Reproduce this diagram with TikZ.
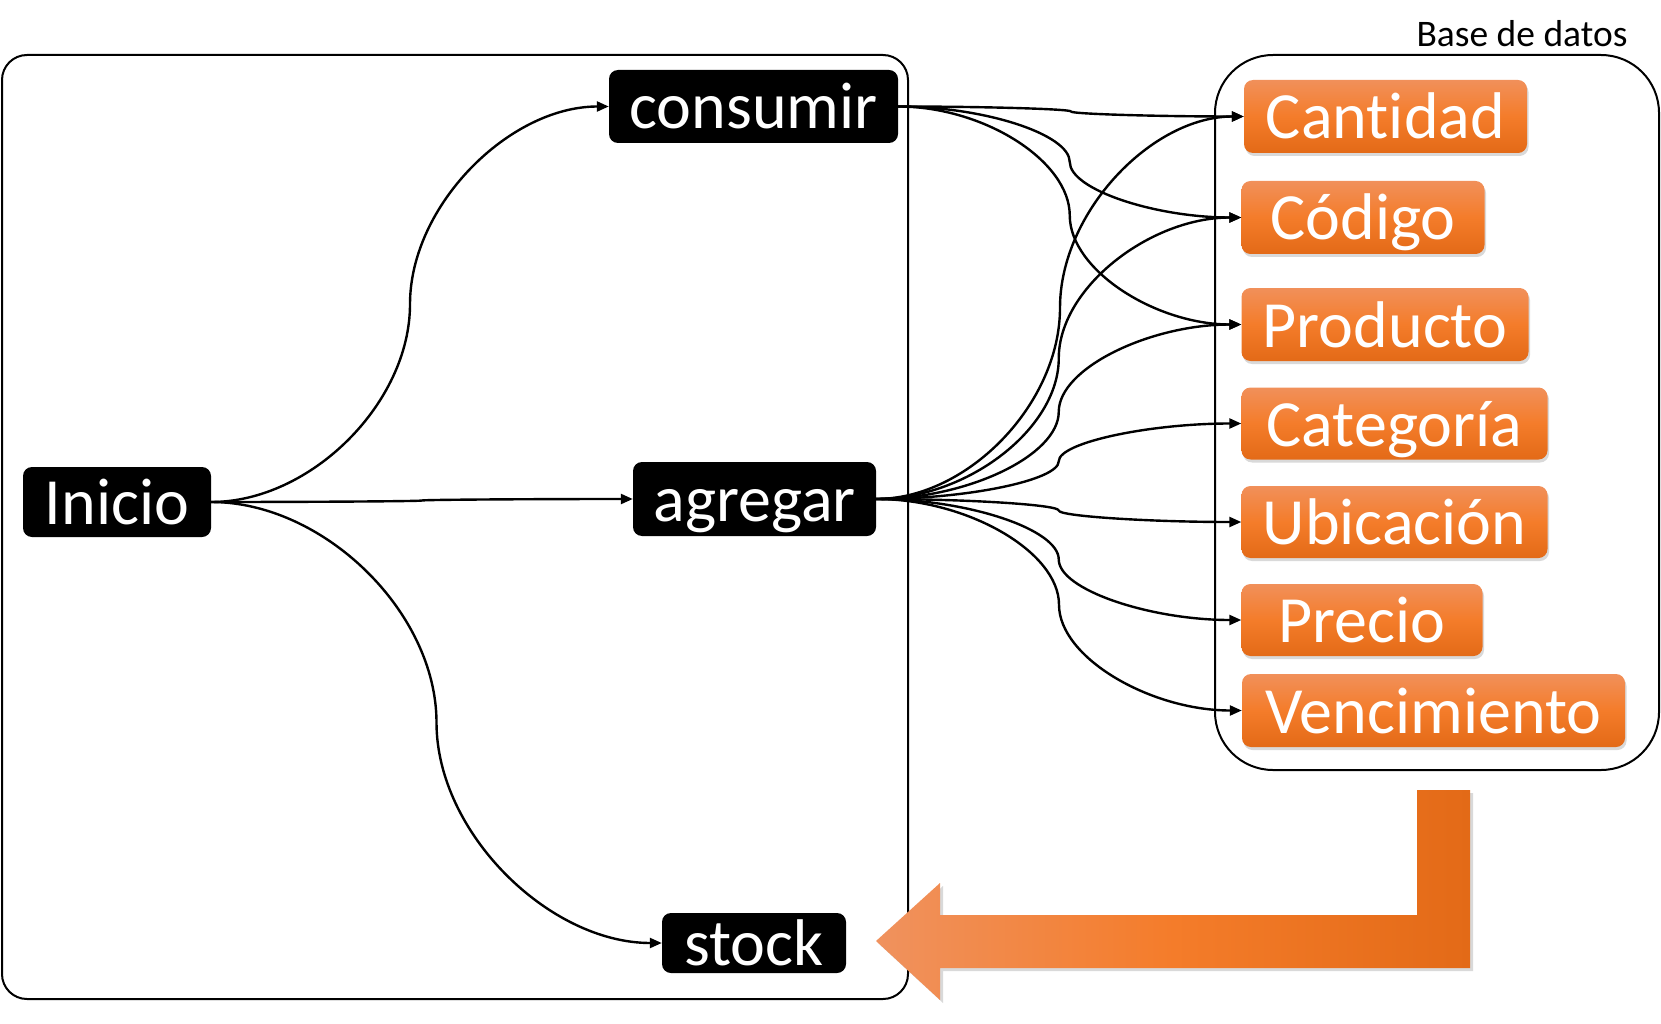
\documentclass[tikz,border=0pt]{standalone}
\usepackage{fontspec}
\setmainfont{Carlito}[Ligatures={NoCommon,NoRare}]
\usetikzlibrary{arrows.meta,calc,shadows}
\definecolor{orA}{HTML}{F1905A}
\definecolor{orB}{HTML}{F47C2A}
\definecolor{orC}{HTML}{E36A17}
\definecolor{arL}{HTML}{F0925E}
\tikzset{
  big/.style={font=\fontsize{66}{72}\selectfont, text height=48pt, text depth=3pt, inner sep=0pt},
  blk/.style={big, fill=black, rounded corners=9pt, text=white},
  orn/.style={big, top color=orA, bottom color=orC, middle color=orB, rounded corners=9pt, text=white,
    drop shadow={shadow xshift=1.5pt, shadow yshift=-3pt, opacity=0.3}},
  frame/.style={draw, line width=2pt},
  conn/.style={draw, line width=2.4pt, -{Triangle[length=12pt,width=10pt]},
    to path={let \p1=(\tikztostart), \p2=(\tikztotarget) in
      .. controls ({0.75*\x1+0.25*\x2},{\y1}) and ({0.5*\x1+0.5*\x2},{0.75*\y1+0.25*\y2})
      .. ({0.5*\x1+0.5*\x2},{0.5*\y1+0.5*\y2})
      .. controls ({0.5*\x1+0.5*\x2},{0.25*\y1+0.75*\y2}) and ({0.25*\x1+0.75*\x2},{\y2})
      .. (\tikztotarget) \tikztonodes}}
}
\begin{document}
\begin{tikzpicture}[x=1pt,y=-1pt]
\useasboundingbox (0,0) rectangle (1661,1024);
% frames
\draw[frame, rounded corners=25pt] (2,55) rectangle (908,999);
\draw[frame, rounded corners=58pt] (1215,55) rectangle (1659,770);
\node[font=\fontsize{37.5}{42}\selectfont, anchor=base, inner sep=0pt] (bd) at (1522,47) {Base de datos};
% black nodes
\node[blk, minimum width=188pt, minimum height=70pt] (inicio) at (117,502) {Inicio};
\node[blk, minimum width=289pt, minimum height=73pt] (consumir) at (753.5,106.5) {consumir};
\node[blk, minimum width=243pt, minimum height=74pt] (agregar) at (754.5,499) {agregar};
\node[blk, minimum width=184pt, minimum height=60pt] (stock) at (754,943) {stock};
% orange nodes
\node[orn, minimum width=283pt, minimum height=73pt] (cant) at (1385.5,116.5) {Cantidad};
\node[orn, minimum width=243pt, minimum height=73pt] (cod) at (1363,217.5) {Código};
\node[orn, minimum width=287pt, minimum height=73pt] (prod) at (1385,324.5) {Producto};
\node[orn, minimum width=306pt, minimum height=72pt] (cat) at (1394.5,423.5) {Categoría};
\node[orn, minimum width=306pt, minimum height=72pt] (ubi) at (1394.5,522) {Ubicación};
\node[orn, minimum width=241pt, minimum height=72pt] (pre) at (1362,620) {Precio};
\node[orn, minimum width=383pt, minimum height=73pt] (ven) at (1433.5,710.5) {Vencimiento};
% connectors
\draw[conn] (inicio.east) to (consumir.west);
\draw[conn] (inicio.east) to (agregar.west);
\draw[conn] (inicio.east) to (stock.west);
\draw[conn] (consumir.east) to (cant.west);
\draw[conn] (consumir.east) to (cod.west);
\draw[conn] (consumir.east) to (prod.west);
\draw[conn] (agregar.east) to (cant.west);
\draw[conn] (agregar.east) to (cod.west);
\draw[conn] (agregar.east) to (prod.west);
\draw[conn] (agregar.east) to (cat.west);
\draw[conn] (agregar.east) to (ubi.west);
\draw[conn] (agregar.east) to (pre.west);
\draw[conn] (agregar.east) to (ven.west);
% big orange return arrow
\path[left color=arL, right color=orC, middle color=orB,
      drop shadow={shadow xshift=3pt, shadow yshift=-3pt, opacity=0.3}]
  (1417,790) -- (1470,790) -- (1470,968) -- (940,968) -- (940,1000) -- (876,941)
  -- (940,883) -- (940,915) -- (1417,915) -- cycle;
\end{tikzpicture}
\end{document}
